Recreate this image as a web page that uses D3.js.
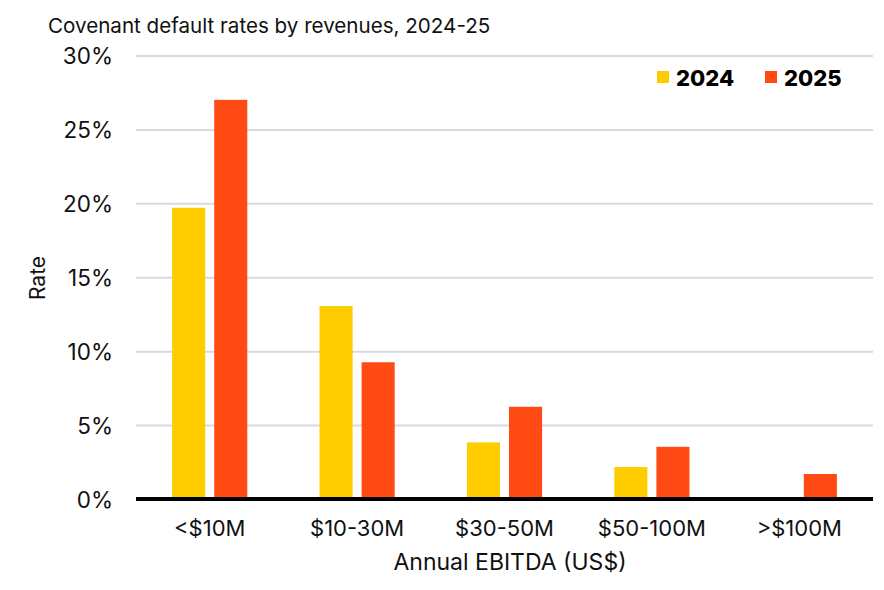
<!DOCTYPE html>
<html>
<head>
<meta charset="utf-8">
<script src="https://cdn.jsdelivr.net/npm/d3@7"></script>
<style>
  html, body { margin: 0; padding: 0; background: #fff; }
  svg { display: block; }
</style>
</head>
<body>
<svg id="chart"></svg>
<script>
// chart data
const categories = ["<$10M", "$10-30M", "$30-50M", "$50-100M", ">$100M"]
const series = ["2024", "2025"]
const rate_2024 = [19.7, 13.05, 3.83, 2.16, 0]
const rate_2025 = [27.0, 9.25, 6.24, 3.53, 1.69]
const y_ticks = [0, 5, 10, 15, 20, 25, 30]

const colors = { "2024": "#ffcc00", "2025": "#ff4a14" }
const font_family = "Inter, 'Noto Sans', Arial, sans-serif"

const width = 884
const height = 590
const margin = { top: 55.5, right: 11, bottom: 91, left: 136 }
const inner_w = width - margin.left - margin.right
const inner_h = height - margin.top - margin.bottom

const rows = categories.map((c, i) => ({ category: c, "2024": rate_2024[i], "2025": rate_2025[i] }))

const svg = d3.select("svg#chart")
	.attr("width", width)
	.attr("height", height)

// title
svg.append("text")
	.attr("x", 48)
	.attr("y", 33)
	.text("Covenant default rates by revenues, 2024-25")
	.style("font-family", font_family)
	.style("font-size", "20.6px")
	.style("fill", "#111")

const plot = svg.append("g")
	.attr("transform", `translate(${margin.left},${margin.top})`)

const x0 = d3.scaleBand()
	.domain(categories)
	.range([0, inner_w])
	.paddingInner(0.49)
	.paddingOuter(0.245)

const x1 = d3.scaleBand()
	.domain(series)
	.range([0, x0.bandwidth()])
	.paddingInner(0.214)

const y = d3.scaleLinear()
	.domain([0, 30])
	.range([inner_h, 0])

// y axis with grid lines
const y_axis = plot.append("g")
	.call(d3.axisLeft(y)
		.tickValues(y_ticks)
		.tickSize(-inner_w)
		.tickPadding(23)
		.tickFormat(d => d + "%"))

y_axis.select(".domain").remove()
y_axis.selectAll(".tick line")
	.style("stroke", "#d9d7e0")
	.style("stroke-width", 2)
y_axis.selectAll(".tick text")
	.style("font-family", font_family)
	.style("font-size", "22.5px")
	.style("fill", "#111")
	.attr("dy", "0.36em")

// bars
plot.append("g")
	.selectAll("g")
	.data(rows)
	.enter()
	.append("g")
	.attr("transform", d => `translate(${x0(d.category)},0)`)
	.selectAll("rect")
	.data(d => series.map(s => ({ key: s, value: d[s] })))
	.enter()
	.append("rect")
	.attr("x", d => x1(d.key))
	.attr("y", d => y(d.value))
	.attr("width", x1.bandwidth())
	.attr("height", d => inner_h - y(d.value))
	.style("fill", d => colors[d.key])

// zero baseline
plot.append("line")
	.attr("x1", 0).attr("x2", inner_w)
	.attr("y1", y(0)).attr("y2", y(0))
	.style("stroke", "#000")
	.style("stroke-width", 4)

// x axis labels
const x_axis = plot.append("g")
	.attr("transform", `translate(0,${inner_h})`)
	.call(d3.axisBottom(x0).tickSize(0).tickPadding(21))

x_axis.select(".domain").remove()
x_axis.selectAll(".tick text")
	.style("font-family", font_family)
	.style("font-size", "22px")
	.style("fill", "#111")

// axis titles
svg.append("text")
	.attr("x", 510)
	.attr("y", 569.5)
	.attr("text-anchor", "middle")
	.text("Annual EBITDA (US$)")
	.style("font-family", font_family)
	.style("font-size", "23px")
	.style("fill", "#111")

svg.append("text")
	.attr("transform", "translate(45,278) rotate(-90)")
	.attr("text-anchor", "middle")
	.text("Rate")
	.style("font-family", font_family)
	.style("font-size", "21px")
	.style("fill", "#111")

// legend
const legend_x = [657, 765]
const legend = svg.append("g")
series.forEach((s, i) => {
	legend.append("rect")
		.attr("x", legend_x[i])
		.attr("y", 71)
		.attr("width", 12)
		.attr("height", 12)
		.style("fill", colors[s])
	legend.append("text")
		.attr("x", legend_x[i] + 19)
		.attr("y", 85.5)
		.text(s)
		.style("font-family", font_family)
		.style("font-size", "22px")
		.style("font-weight", "800")
		.style("fill", "#000")
})
</script>
</body>
</html>
